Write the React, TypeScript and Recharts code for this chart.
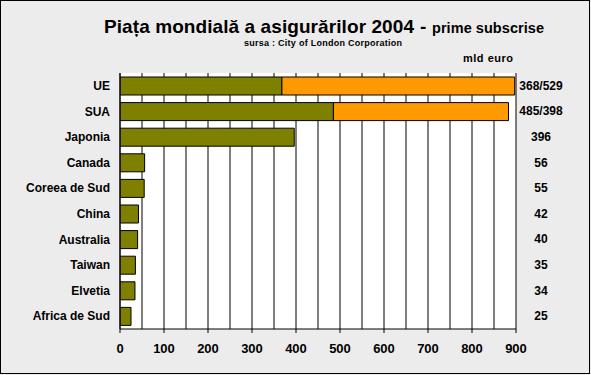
import React from "react";
import { Bar, BarChart, CartesianGrid, XAxis, YAxis } from "recharts";

// piata mondiala a asigurarilor 2004, mld euro
const countries = ["UE", "SUA", "Japonia", "Canada", "Coreea de Sud", "China", "Australia", "Taiwan", "Elvetia", "Africa de Sud"];
const firstPart = [368, 485, 396, 56, 55, 42, 40, 35, 34, 25];
const secondPart = [529, 398, null, null, null, null, null, null, null, null];
const valueLabels = ["368/529", "485/398", "396", "56", "55", "42", "40", "35", "34", "25"];
const gridTicks = [0, 50, 100, 150, 200, 250, 300, 350, 400, 450, 500, 550, 600, 650, 700, 750, 800, 850, 900];

const data = countries.map((name, i) => ({
  name,
  a: firstPart[i],
  b: secondPart[i],
  label: valueLabels[i],
}));

const FONT = "'Liberation Sans', Arial, sans-serif";
const TICK_SIZE = 4;
const TICK_MARGIN = 10;

function ValueTick(props: any) {
  const { x, y, payload } = props;
  return (
    <text x={x + 25} y={y} dy={4} textAnchor="middle" fontFamily={FONT} fontWeight="bold" fontSize={12} fill="#000">
      {payload.value}
    </text>
  );
}

// labels and tick marks only every 100, gridlines every 50
function BottomTick(props: any) {
  const { x, y, payload } = props;
  if (payload.value % 100 !== 0) return null;
  const axisY = y - TICK_SIZE - TICK_MARGIN;
  return (
    <g>
      <line x1={x} x2={x} y1={axisY} y2={axisY + TICK_SIZE} stroke="#000" />
      <text x={x} y={y} dy={10} textAnchor="middle" fontFamily={FONT} fontWeight="bold" fontSize={13} fill="#000">
        {payload.value}
      </text>
    </g>
  );
}

export default function App() {
  return (
    <div style={{ position: "absolute", left: 0, top: 0, width: 591, height: 375, background: "#ececec" }}>
      <BarChart
        width={591}
        height={375}
        data={data}
        layout="vertical"
        margin={{ top: 73, right: 0, bottom: 16, left: 0 }}
        barSize={18}
      >
        <CartesianGrid horizontal={false} stroke="#000" fill="#ffffff" />
        <XAxis
          xAxisId="top"
          orientation="top"
          type="number"
          domain={[0, 900]}
          allowDataOverflow
          tick={false}
          tickLine={false}
          height={0}
          axisLine={{ stroke: "#000" }}
        />
        <XAxis
          type="number"
          domain={[0, 900]}
          ticks={gridTicks}
          interval={0}
          allowDataOverflow
          height={30}
          tickSize={TICK_SIZE}
          tickMargin={TICK_MARGIN}
          axisLine={{ stroke: "#000" }}
          tickLine={false}
          tick={<BottomTick />}
        />
        <YAxis
          type="category"
          dataKey="name"
          width={120}
          tickSize={0}
          tickMargin={10}
          tickLine={false}
          axisLine={{ stroke: "#000" }}
          tick={{ fill: "#000", fontSize: 12, fontWeight: "bold", fontFamily: FONT }}
        />
        <YAxis
          yAxisId="right"
          orientation="right"
          type="category"
          dataKey="label"
          width={75}
          tickSize={0}
          tickMargin={0}
          tickLine={false}
          axisLine={false}
          tick={<ValueTick />}
        />
        <Bar dataKey="a" stackId="s" fill="#808000" stroke="#000" strokeWidth={1} isAnimationActive={false} />
        <Bar dataKey="b" stackId="s" fill="#FF9900" stroke="#000" strokeWidth={1} isAnimationActive={false} />
      </BarChart>
      <svg width={591} height={375} style={{ position: "absolute", left: 0, top: 0, pointerEvents: "none" }}>
        <text x={104} y={33} fontFamily={FONT} fontWeight="bold" fontSize={19} textLength={310} fill="#000">
          Piața mondială a asigurărilor 2004
        </text>
        <text x={420} y={33} fontFamily={FONT} fontWeight="bold" fontSize={19} fill="#000">
          -
        </text>
        <text x={432} y={33} fontFamily={FONT} fontWeight="bold" fontSize={14.5} textLength={112} fill="#000">
          prime subscrise
        </text>
        <text x={244} y={46} fontFamily={FONT} fontWeight="bold" fontSize={9} textLength={158} fill="#000">
          sursa : City of London Corporation
        </text>
        <text x={463} y={62} fontFamily={FONT} fontWeight="bold" fontSize={11} textLength={50} fill="#000">
          mld euro
        </text>
        <rect x={0.5} y={0.5} width={589} height={373} fill="none" stroke="#000" strokeWidth={1} />
      </svg>
    </div>
  );
}
